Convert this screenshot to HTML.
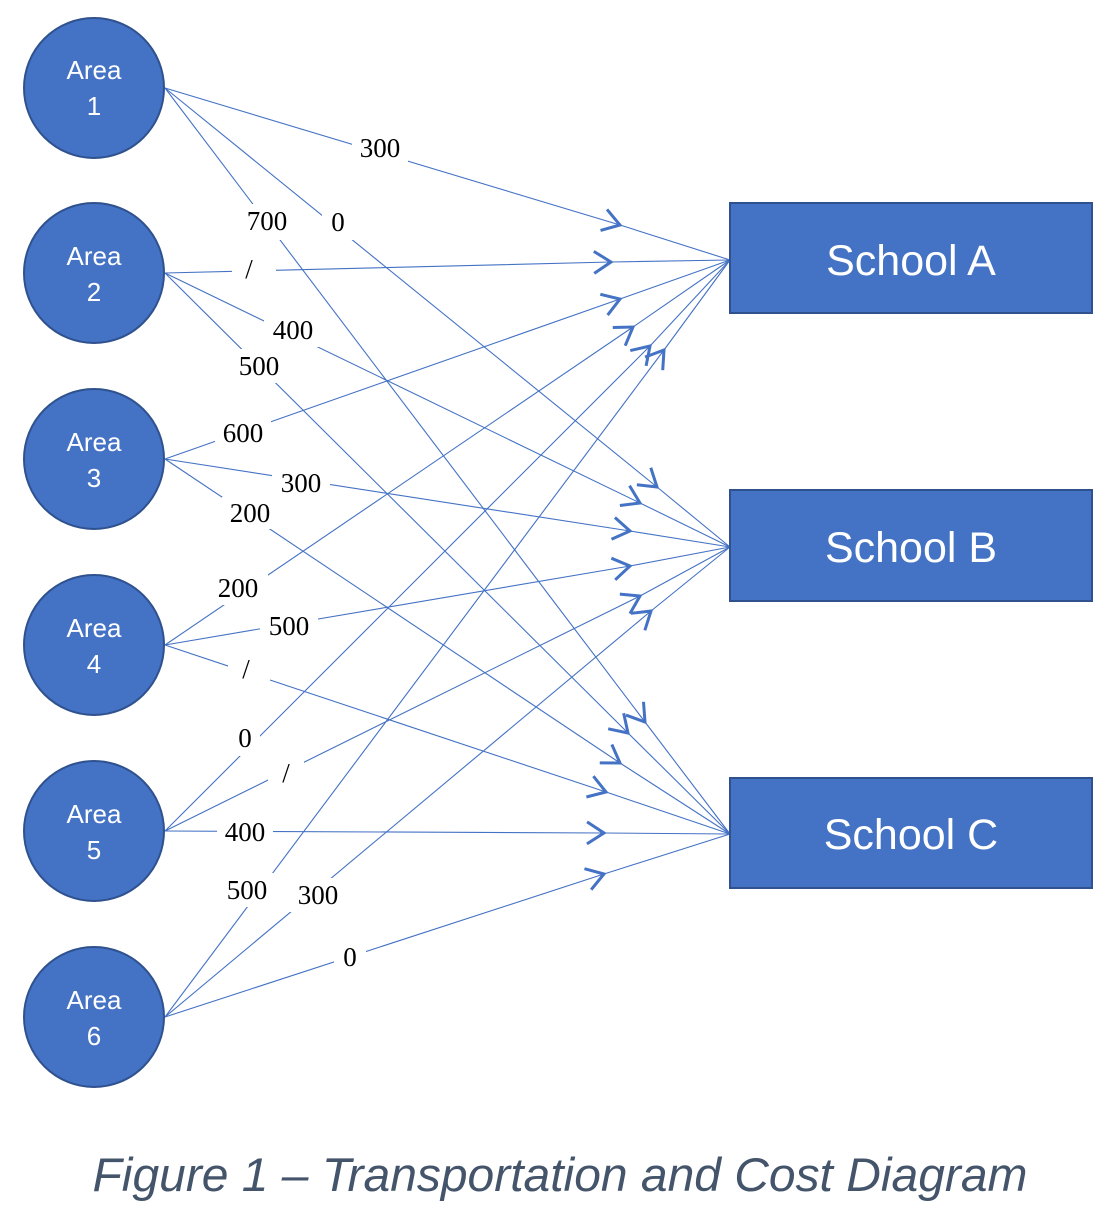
<!DOCTYPE html>
<html><head><meta charset="utf-8"><style>
html,body{margin:0;padding:0;background:#fff;}
svg{display:block;}
</style></head><body>
<svg width="1120" height="1230" viewBox="0 0 1120 1230" xmlns="http://www.w3.org/2000/svg">
<defs>
<marker id="ar" markerUnits="userSpaceOnUse" markerWidth="40" markerHeight="40" refX="20" refY="20" orient="auto" overflow="visible">
<path d="M3,9 L20,20 L3,31" fill="none" stroke="#4472C4" stroke-width="3" stroke-linejoin="miter"/>
</marker>
</defs>
<g fill="none" stroke="#4472C4" stroke-width="1.1" marker-mid="url(#ar)">
<polyline points="165,88 620,225 730,260"/>
<polyline points="165,88 657,487 730,547"/>
<polyline points="165,88 645,722 730,834"/>
<polyline points="165,273 611,262 730,260"/>
<polyline points="165,273 640,503 730,547"/>
<polyline points="165,273 628,733 730,834"/>
<polyline points="165,459 620,299 730,260"/>
<polyline points="165,459 630,531 730,547"/>
<polyline points="165,459 620,763 730,834"/>
<polyline points="165,645 633,327 730,260"/>
<polyline points="165,645 630,566 730,547"/>
<polyline points="165,645 606,792 730,834"/>
<polyline points="165,831 650,346 730,260"/>
<polyline points="165,831 640,596 730,547"/>
<polyline points="165,831 604,833 730,834"/>
<polyline points="165,1017 664,350 730,260"/>
<polyline points="165,1017 651,611 730,547"/>
<polyline points="165,1017 604,874 730,834"/>
</g>
<g fill="#fff">
<rect x="352" y="132" width="56" height="32"/>
<rect x="322" y="204" width="32" height="36"/>
<rect x="238" y="204" width="58" height="36"/>
<rect x="232" y="250" width="44" height="36"/>
<rect x="264" y="313" width="58" height="34"/>
<rect x="230" y="349" width="58" height="34"/>
<rect x="215" y="417" width="56" height="32"/>
<rect x="272" y="467" width="58" height="32"/>
<rect x="222" y="497" width="56" height="32"/>
<rect x="208" y="571" width="60" height="34"/>
<rect x="260" y="609" width="58" height="32"/>
<rect x="228" y="650" width="42" height="36"/>
<rect x="230" y="722" width="30" height="34"/>
<rect x="268" y="755" width="36" height="36"/>
<rect x="217" y="816" width="56" height="32"/>
<rect x="218" y="873" width="58" height="34"/>
<rect x="289" y="878" width="58" height="34"/>
<rect x="334" y="940" width="32" height="34"/>
</g>
<g font-family="Liberation Serif, serif" font-size="27" fill="#000" text-anchor="middle">
<text x="380" y="157">300</text>
<text x="338" y="231">0</text>
<text x="267" y="230">700</text>
<text x="249" y="278">/</text>
<text x="293" y="339">400</text>
<text x="259" y="375">500</text>
<text x="243" y="442">600</text>
<text x="301" y="492">300</text>
<text x="250" y="522">200</text>
<text x="238" y="597">200</text>
<text x="289" y="635">500</text>
<text x="246" y="678">/</text>
<text x="245" y="747">0</text>
<text x="286" y="782">/</text>
<text x="245" y="841">400</text>
<text x="247" y="899">500</text>
<text x="318" y="904">300</text>
<text x="350" y="966">0</text>
</g>
<g fill="#4472C4" stroke="#2F528F" stroke-width="2">
<circle cx="94" cy="88" r="70"/>
<circle cx="94" cy="273" r="70"/>
<circle cx="94" cy="459" r="70"/>
<circle cx="94" cy="645" r="70"/>
<circle cx="94" cy="831" r="70"/>
<circle cx="94" cy="1017" r="70"/>
<rect x="730" y="203" width="362" height="110"/>
<rect x="730" y="490" width="362" height="111"/>
<rect x="730" y="778" width="362" height="110"/>
</g>
<g font-family="Liberation Sans, sans-serif" font-size="26" fill="#fff" text-anchor="middle">
<text x="94" y="79">Area</text><text x="94" y="115">1</text>
<text x="94" y="265">Area</text><text x="94" y="301">2</text>
<text x="94" y="451">Area</text><text x="94" y="487">3</text>
<text x="94" y="637">Area</text><text x="94" y="673">4</text>
<text x="94" y="823">Area</text><text x="94" y="859">5</text>
<text x="94" y="1009">Area</text><text x="94" y="1045">6</text>
</g>
<g font-family="Liberation Sans, sans-serif" font-size="43" fill="#fff" text-anchor="middle">
<text x="911" y="275">School A</text>
<text x="911" y="562">School B</text>
<text x="911" y="849">School C</text>
</g>
<text x="560" y="1191" font-family="Liberation Sans, sans-serif" font-style="italic" font-size="47" fill="#44546A" text-anchor="middle" textLength="935" lengthAdjust="spacingAndGlyphs">Figure 1 – Transportation and Cost Diagram</text>
</svg>
</body></html>
